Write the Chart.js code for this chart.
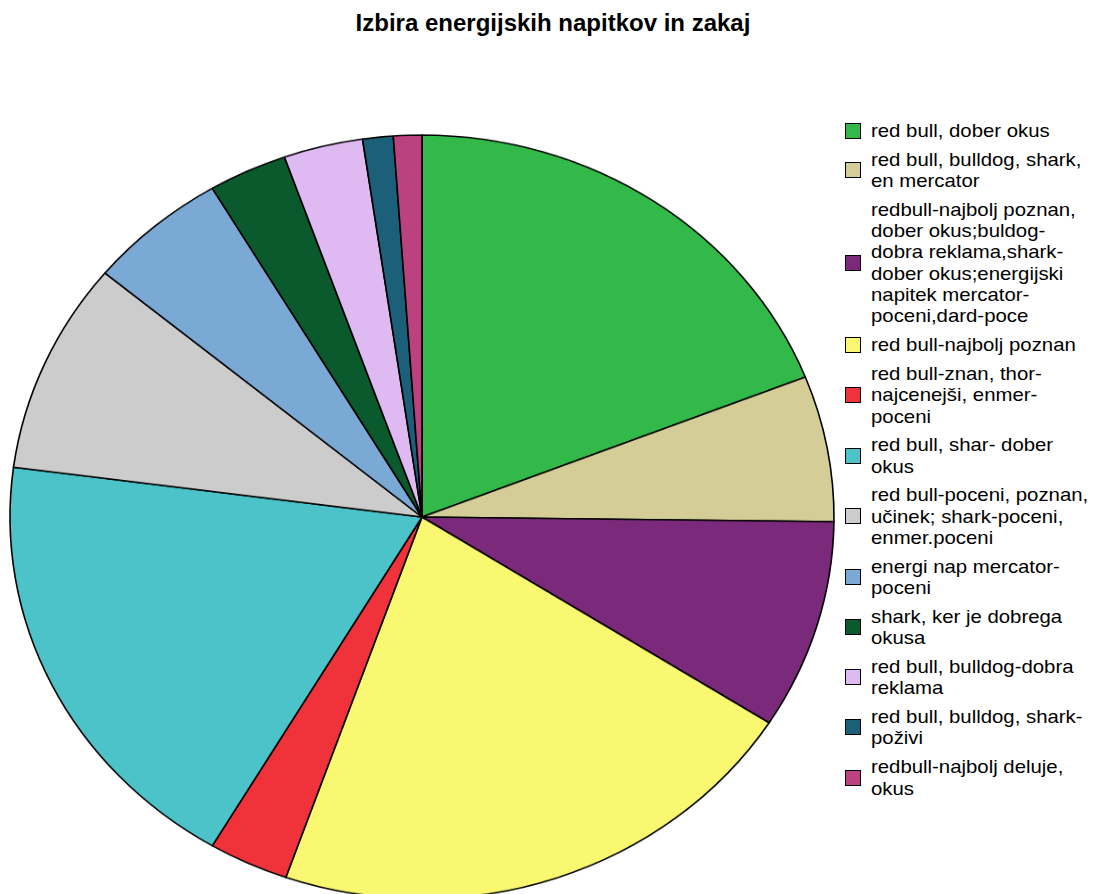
<!DOCTYPE html>
<html>
<head>
<meta charset="utf-8">
<script src="https://cdn.jsdelivr.net/npm/chart.js@4/dist/chart.umd.min.js"></script>
<style>
  html, body { margin:0; padding:0; background:#fff; overflow:hidden; }
  body { width:1096px; height:894px; position:relative; font-family:'Liberation Sans', Arial, sans-serif; }
  #title {
    position:absolute; left:0; top:9px; width:1106px; text-align:center;
    font-weight:bold; font-size:24px; color:#000;
  }
  #pieWrap {
    position:absolute; left:2px; top:97px; width:840px; height:840px;
    transform:scaleY(0.927); transform-origin:50% 50%;
  }
  #legend { position:absolute; left:845px; top:120px; width:250px; }
  .leg-item { display:flex; align-items:center; margin-bottom:7.5px; }
  .leg-box {
    width:14px; height:14px; border:1.5px solid #000; flex:0 0 auto; margin-right:10px;
  }
  .leg-text {
    font-size:18.5px; line-height:21.3px; color:#000; white-space:nowrap;
    transform:scaleX(1.1); transform-origin:0 50%;
  }
</style>
</head>
<body>
<div id="title">Izbira energijskih napitkov in zakaj</div>
<div id="pieWrap"><canvas id="pie" width="840" height="840"></canvas></div>
<div id="legend"></div>

<script>
// ── DATA ─────────────────────────────────────
const LABELS = [
  ['red bull, dober okus'],
  ['red bull, bulldog, shark,', 'en mercator'],
  ['redbull-najbolj poznan,', 'dober okus;buldog-', 'dobra reklama,shark-', 'dober okus;energijski', 'napitek mercator-', 'poceni,dard-poce'],
  ['red bull-najbolj poznan'],
  ['red bull-znan, thor-', 'najcenejši, enmer-', 'poceni'],
  ['red bull, shar- dober', 'okus'],
  ['red bull-poceni, poznan,', 'učinek; shark-poceni,', 'enmer.poceni'],
  ['energi nap mercator-', 'poceni'],
  ['shark, ker je dobrega', 'okusa'],
  ['red bull, bulldog-dobra', 'reklama'],
  ['red bull, bulldog, shark-', 'poživi'],
  ['redbull-najbolj deluje,', 'okus']
];

// share of the pie
const VALUES = [68.5, 22.2, 31.9, 76.7, 11.3, 66.9, 32.2, 19.7, 11.1, 11.2, 4.3, 4.0];

const COLORS = [
  '#33b84a', '#d4cd97', '#7b2a7b', '#faf771', '#f0333a', '#4bc3c8',
  '#cccccc', '#7ba9d6', '#0b5a2e', '#dfbaf2', '#1c5f78', '#bb417f'
];

// ── PIE ──────────────────────────────────────
new Chart(document.getElementById('pie'), {
  type: 'pie',
  data: {
    labels: LABELS,
    datasets: [{
      data: VALUES,
      backgroundColor: COLORS,
      borderColor: '#000',
      borderWidth: 1.6,
      borderJoinStyle: 'miter',
      radius: 412
    }]
  },
  options: {
    responsive: false,
    animation: false,
    rotation: 0,
    layout: { padding: 0 },
    plugins: {
      legend: { display: false },
      title: { display: false },
      tooltip: { enabled: false }
    }
  }
});

// ── LEGEND ───────────────────────────────────
document.getElementById('legend').innerHTML = LABELS.map((lines, i) => `
  <div class="leg-item">
    <div class="leg-box" style="background:${COLORS[i]}"></div>
    <div class="leg-text">${lines.join('<br>')}</div>
  </div>`).join('');
</script>
</body>
</html>
